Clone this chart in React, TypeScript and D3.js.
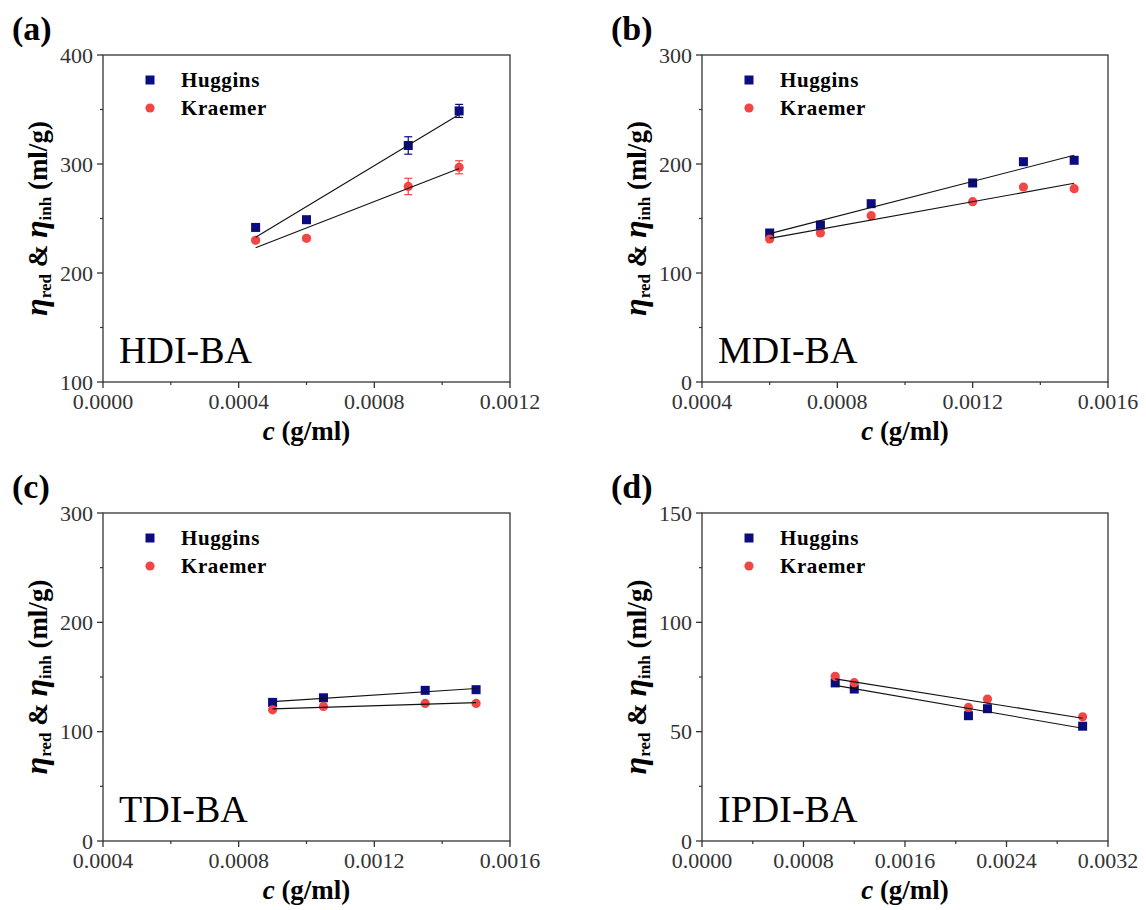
import React from "react";
import * as d3 from "d3";

// ---------- data ----------
// (a) HDI-BA
const aConc = [0.00045, 0.0006, 0.0009, 0.00105];
const aHuggins = [241.8, 248.9, 317.0, 348.7];
const aKraemer = [230.0, 231.8, 279.4, 297.0];
const aHugErr = [2, 2, 8, 6];
const aKraErr = [2, 2, 7.5, 6];
// (b) MDI-BA
const bConc = [0.0006, 0.00075, 0.0009, 0.0012, 0.00135, 0.0015];
const bHuggins = [136.7, 144.0, 163.6, 182.6, 202.1, 203.4];
const bKraemer = [131.2, 136.7, 152.6, 165.4, 178.9, 177.4];
// (c) TDI-BA
const cConc = [0.0009, 0.00105, 0.00135, 0.0015];
const cHuggins = [126.8, 131.0, 137.8, 138.4];
const cKraemer = [120.0, 123.1, 125.8, 125.8];
// (d) IPDI-BA
const dConc = [0.00105, 0.0012, 0.0021, 0.00225, 0.003];
const dHuggins = [72.3, 69.5, 57.3, 60.5, 52.5];
const dKraemer = [75.3, 72.4, 61.1, 64.9, 56.8];

const seriesNames = ["Huggins", "Kraemer"];
const panelLetters = ["(a)", "(b)", "(c)", "(d)"];
const sampleNames = ["HDI-BA", "MDI-BA", "TDI-BA", "IPDI-BA"];

const xTicksA = [0, 0.0004, 0.0008, 0.0012];
const xTicksB = [0.0004, 0.0008, 0.0012, 0.0016];
const xTicksD = [0, 0.0008, 0.0016, 0.0024, 0.0032];
const yTicksA = [100, 200, 300, 400];
const yTicksB = [0, 100, 200, 300];
const yTicksD = [0, 50, 100, 150];

const NAVY = "#0b0b82";
const RED = "#f24545";
const AXIS = "#333";
const FONT = '"Liberation Serif", "DejaVu Serif", serif';

function fit(xs: number[], ys: number[]) {
  const mx = d3.mean(xs) as number;
  const my = d3.mean(ys) as number;
  let sxy = 0, sxx = 0;
  xs.forEach((x, i) => {
    sxy += (x - mx) * (ys[i] - my);
    sxx += (x - mx) * (x - mx);
  });
  const k = sxy / sxx;
  const b = my - k * mx;
  const [x0, x1] = d3.extent(xs) as [number, number];
  return [
    [x0, k * x0 + b],
    [x1, k * x1 + b],
  ];
}

function midpoints(t: number[]) {
  const m: number[] = [];
  for (let i = 0; i < t.length - 1; i++) m.push((t[i] + t[i + 1]) / 2);
  return m;
}

type PanelProps = {
  letter: string;
  name: string;
  left: number;
  top: number;
  width: number;
  height: number;
  xTicks: number[];
  yTicks: number[];
  conc: number[];
  hug: number[];
  kra: number[];
  hugErr?: number[];
  kraErr?: number[];
};

const tf = { fontFamily: FONT };

function Panel(p: PanelProps) {
  const x = d3
    .scaleLinear()
    .domain([p.xTicks[0], p.xTicks[p.xTicks.length - 1]])
    .range([p.left, p.left + p.width]);
  const y = d3
    .scaleLinear()
    .domain([p.yTicks[0], p.yTicks[p.yTicks.length - 1]])
    .range([p.top + p.height, p.top]);
  const bottom = p.top + p.height;
  const right = p.left + p.width;
  const xMinor = midpoints(p.xTicks);
  const yMinor = midpoints(p.yTicks);
  const fmtX = d3.format(".4f");
  const line = d3
    .line<number[]>()
    .x((d) => x(d[0]))
    .y((d) => y(d[1]));
  const hugFit = fit(p.conc, p.hug);
  const kraFit = fit(p.conc, p.kra);
  const cy = p.top + p.height / 2;
  const ytx = p.left - 56;
  const sq = 9;

  const errBars = (vals: number[], errs: number[] | undefined, color: string) =>
    errs
      ? p.conc.map((c, i) => (
          <g key={"e" + i} stroke={color} strokeWidth={1.2}>
            <line x1={x(c)} x2={x(c)} y1={y(vals[i] - errs[i])} y2={y(vals[i] + errs[i])} />
            <line x1={x(c) - 4} x2={x(c) + 4} y1={y(vals[i] - errs[i])} y2={y(vals[i] - errs[i])} />
            <line x1={x(c) - 4} x2={x(c) + 4} y1={y(vals[i] + errs[i])} y2={y(vals[i] + errs[i])} />
          </g>
        ))
      : null;

  return (
    <g style={tf}>
      {/* panel letter */}
      <text style={tf} x={p.left - 91} y={p.top - 15} fontSize={34} fontWeight="bold" fill="#000">
        {p.letter}
      </text>
      {/* frame */}
      <rect x={p.left} y={p.top} width={p.width} height={p.height} fill="none" stroke={AXIS} strokeWidth={1.3} />
      {/* x ticks */}
      {p.xTicks.map((t, i) => (
        <g key={"xt" + i}>
          <line x1={x(t)} x2={x(t)} y1={bottom} y2={bottom + 6} stroke={AXIS} strokeWidth={1.3} />
          <text style={tf} x={x(t)} y={bottom + 27} textAnchor="middle" fontSize={22} fill="#333">
            {fmtX(t)}
          </text>
        </g>
      ))}
      {xMinor.map((t, i) => (
        <line key={"xm" + i} x1={x(t)} x2={x(t)} y1={bottom} y2={bottom + 3} stroke={AXIS} strokeWidth={1.2} />
      ))}
      {/* y ticks */}
      {p.yTicks.map((t, i) => (
        <g key={"yt" + i}>
          <line x1={p.left - 6} x2={p.left} y1={y(t)} y2={y(t)} stroke={AXIS} strokeWidth={1.3} />
          <text style={tf} x={p.left - 10} y={y(t)} dy="0.35em" textAnchor="end" fontSize={22} fill="#333">
            {t}
          </text>
        </g>
      ))}
      {yMinor.map((t, i) => (
        <line key={"ym" + i} x1={p.left - 3} x2={p.left} y1={y(t)} y2={y(t)} stroke={AXIS} strokeWidth={1.2} />
      ))}
      {/* axis titles */}
      <text style={tf} x={(p.left + right) / 2} y={bottom + 58} textAnchor="middle" fontSize={27} fontWeight="bold" fill="#000">
        <tspan fontStyle="italic">c</tspan>
        <tspan> (g/ml)</tspan>
      </text>
      <text
        style={tf}
        transform={`translate(${ytx},${cy}) rotate(-90)`}
        textAnchor="middle"
        fontSize={27}
        fontWeight="bold"
        fill="#000"
      >
        <tspan fontStyle="italic" fontSize={32}>η</tspan>
        <tspan fontSize={17} dy={4}>red</tspan>
        <tspan dy={-4}> &amp; </tspan>
        <tspan fontStyle="italic" fontSize={32}>η</tspan>
        <tspan fontSize={17} dy={4}>inh</tspan>
        <tspan dy={-4}> (ml/g)</tspan>
      </text>
      {/* sample name */}
      <text style={tf} x={p.left + 16} y={bottom - 19} fontSize={38} fill="#000">
        {p.name}
      </text>
      {/* legend */}
      <rect x={p.left + 47 - sq / 2} y={p.top + 25 - sq / 2} width={sq} height={sq} fill={NAVY} />
      <text style={tf} x={p.left + 78} y={p.top + 25} dy="0.35em" fontSize={21} fontWeight="bold" letterSpacing={0.6} fill="#000">
        {seriesNames[0]}
      </text>
      <circle cx={p.left + 47} cy={p.top + 53} r={4.6} fill={RED} />
      <text style={tf} x={p.left + 78} y={p.top + 53} dy="0.35em" fontSize={21} fontWeight="bold" letterSpacing={0.6} fill="#000">
        {seriesNames[1]}
      </text>
      {/* error bars */}
      {errBars(p.hug, p.hugErr, NAVY)}
      {errBars(p.kra, p.kraErr, RED)}
      {/* markers */}
      {p.conc.map((c, i) => (
        <rect key={"h" + i} x={x(c) - sq / 2} y={y(p.hug[i]) - sq / 2} width={sq} height={sq} fill={NAVY} />
      ))}
      {p.conc.map((c, i) => (
        <circle key={"k" + i} cx={x(c)} cy={y(p.kra[i])} r={4.6} fill={RED} />
      ))}
      {/* fit lines */}
      <path d={line(hugFit) || ""} fill="none" stroke="#111" strokeWidth={1.1} />
      <path d={line(kraFit) || ""} fill="none" stroke="#111" strokeWidth={1.1} />
    </g>
  );
}

export default function App() {
  const W = 1146, H = 910;
  const colL = [103, 702];
  const rowT = [55, 513];
  const pw = 407, ph = 327;
  return (
    <svg
      width={W}
      height={H}
      viewBox={`0 0 ${W} ${H}`}
      style={{ position: "absolute", left: 0, top: 0, background: "#fff", fontFamily: FONT }}
    >
      <rect width={W} height={H} fill="#fff" />
      <Panel letter={panelLetters[0]} name={sampleNames[0]} left={colL[0]} top={rowT[0]} width={pw} height={ph}
        xTicks={xTicksA} yTicks={yTicksA} conc={aConc} hug={aHuggins} kra={aKraemer} hugErr={aHugErr} kraErr={aKraErr} />
      <Panel letter={panelLetters[1]} name={sampleNames[1]} left={colL[1]} top={rowT[0]} width={pw - 1} height={ph}
        xTicks={xTicksB} yTicks={yTicksB} conc={bConc} hug={bHuggins} kra={bKraemer} />
      <Panel letter={panelLetters[2]} name={sampleNames[2]} left={colL[0]} top={rowT[1]} width={pw} height={ph + 1}
        xTicks={xTicksB} yTicks={yTicksB} conc={cConc} hug={cHuggins} kra={cKraemer} />
      <Panel letter={panelLetters[3]} name={sampleNames[3]} left={colL[1]} top={rowT[1]} width={pw - 1} height={ph + 1}
        xTicks={xTicksD} yTicks={yTicksD} conc={dConc} hug={dHuggins} kra={dKraemer} />
    </svg>
  );
}
